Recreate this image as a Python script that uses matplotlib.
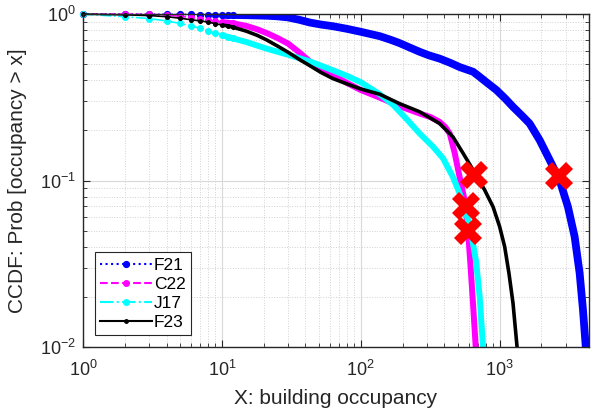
import matplotlib
matplotlib.use("Agg")
import matplotlib.pyplot as plt
from matplotlib.lines import Line2D
import numpy as np

# ---------------- data ----------------
f21_x = [1, 2, 3, 4, 5, 6, 7, 8, 9, 10, 11, 12, 15, 21, 25, 30, 36, 43, 52, 63, 80, 100,
         137, 165, 190, 225, 265, 310, 370, 440, 517, 645, 718, 802, 947, 1100, 1248,
         1450, 1644, 1940, 2290, 2700, 3100, 3465, 3766, 3980, 4160, 4200]
f21_y = [1.0, 0.999, 0.998, 0.997, 0.996, 0.995, 0.994, 0.993, 0.992, 0.99, 0.989, 0.988,
         0.985, 0.978, 0.97, 0.955, 0.925, 0.89, 0.865, 0.846, 0.815, 0.783, 0.737, 0.70,
         0.67, 0.63, 0.594, 0.565, 0.54, 0.51, 0.48, 0.45, 0.42, 0.39, 0.35, 0.31, 0.277,
         0.245, 0.22, 0.175, 0.133, 0.1007, 0.0696, 0.046, 0.0277, 0.0167, 0.0102, 0.0095]

c22_x = [1, 2, 3, 4, 5, 6, 7, 8, 9, 10, 11, 12, 15, 18, 21, 25, 30, 36, 43, 52, 63, 80,
         100, 137, 190, 265, 320, 370, 405, 437, 475, 515, 560, 592, 615, 643, 672, 675]
c22_y = [1.0, 1.0, 0.995, 0.99, 0.97, 0.955, 0.94, 0.925, 0.91, 0.895, 0.888, 0.88,
         0.85, 0.81, 0.77, 0.72, 0.665, 0.59, 0.52, 0.47, 0.43, 0.385, 0.35, 0.315,
         0.28, 0.253, 0.24, 0.225, 0.21, 0.192, 0.146, 0.105, 0.076, 0.050, 0.032,
         0.0183, 0.0101, 0.0095]

j17_x = [1, 2, 3, 4, 5, 6, 7, 8, 9, 10, 11, 12, 15, 21, 30, 43, 63, 80, 100, 137, 171,
         213, 265, 331, 391, 461, 515, 575, 625, 679, 718, 759, 762]
j17_y = [1.0, 0.965, 0.94, 0.91, 0.88, 0.85, 0.82, 0.79, 0.77, 0.75, 0.73, 0.715,
         0.68, 0.62, 0.57, 0.52, 0.46, 0.425, 0.39, 0.33, 0.285, 0.235, 0.192, 0.16,
         0.136, 0.105, 0.0838, 0.0635, 0.048, 0.032, 0.020, 0.0101, 0.0095]

f23_x = [1, 2, 3, 4, 5, 6, 7, 8, 9, 10, 11, 12, 15, 18, 21, 25, 30, 36, 43, 52, 63, 80,
         100, 137, 190, 265, 370, 461, 545, 643, 780, 896, 1000, 1087, 1167, 1248,
         1333, 1340]
f23_y = [1.0, 0.99, 0.98, 0.965, 0.945, 0.925, 0.91, 0.895, 0.875, 0.86, 0.85, 0.835,
         0.79, 0.745, 0.70, 0.645, 0.59, 0.535, 0.49, 0.445, 0.41, 0.38, 0.355, 0.33,
         0.29, 0.259, 0.22, 0.183, 0.146, 0.116, 0.0877, 0.0696, 0.0528, 0.040,
         0.0277, 0.0183, 0.0101, 0.0095]

cross_x = [650, 575, 596, 2670]
cross_y = [0.108, 0.0705, 0.050, 0.106]

labels = ["F21", "C22", "J17", "F23"]
# -----------------------------------------------------------------

plt.rcParams["font.family"] = ["Liberation Sans", "DejaVu Sans"]
plt.rcParams["mathtext.default"] = "regular"

dark = (0.15, 0.15, 0.15)

fig = plt.figure(figsize=(5.92, 4.15), dpi=100)
ax = fig.add_axes([0.140, 0.164, 0.855, 0.802])

series = [
    (f21_x, f21_y, (0, 0, 1), ":", 5.6, 4.2),
    (c22_x, c22_y, (1, 0, 1), "--", 4.3, 4.0),
    (j17_x, j17_y, (0, 1, 1), "-.", 4.3, 4.0),
    (f23_x, f23_y, (0, 0, 0), "-", 2.6, 2.6),
]

for xs, ys, col, ls, thick, ms in series:
    xs = np.asarray(xs, float)
    ys = np.asarray(ys, float)
    lo = xs <= 12
    hi = xs >= 10
    ax.plot(xs[lo], ys[lo], linestyle=ls, color=col, lw=1.2, marker="o",
            ms=ms, mec=col, mfc=col, clip_on=False)
    ax.plot(xs[hi], ys[hi], linestyle="-", color=col, lw=thick,
            solid_capstyle="butt", solid_joinstyle="round")

ax.plot(cross_x, cross_y, linestyle="none", marker="X", ms=20, color=(1, 0, 0),
        mec=(1, 0, 0), mew=0, zorder=5)

ax.set_xscale("log")
ax.set_yscale("log")
ax.set_xlim(1, 4400)
ax.set_ylim(0.01, 1)

ax.grid(True, which="major", color=(0.85, 0.85, 0.85), lw=0.8, ls="-")
ax.grid(True, which="minor", color=(0.82, 0.82, 0.82), lw=0.7, ls=":")
ax.set_axisbelow(True)

ax.tick_params(which="both", direction="in", top=True, right=True,
               colors=dark, labelcolor=dark)
ax.tick_params(which="major", length=5, labelsize=13)
ax.tick_params(which="minor", length=3)
ax.tick_params(axis="x", pad=9)
ax.tick_params(axis="y", pad=5)
for s in ax.spines.values():
    s.set_color(dark)
    s.set_linewidth(1.0)

ax.set_xlabel("X: building occupancy", fontsize=15, color=dark, labelpad=7)
ax.set_ylabel("CCDF: Prob [occupancy > x]", fontsize=15, color=dark, labelpad=9)

handles = []
for xs, ys, col, ls, thick, ms in series:
    handles.append(Line2D([], [], color=col, linestyle=ls, lw=1.5, marker="o",
                          ms=ms if col != (0, 0, 0) else 2.5, mfc=col, mec=col,
                          markevery=[1]))
leg = ax.legend(handles, labels, loc="lower left", bbox_to_anchor=(0.024, 0.036),
                borderaxespad=0, fontsize=12.5, handlelength=3.0, handletextpad=0.1,
                labelspacing=0.22, borderpad=0.3, fancybox=False, framealpha=1,
                edgecolor=dark)
leg.get_frame().set_linewidth(0.8)

fig.savefig("out.png", dpi=100)
